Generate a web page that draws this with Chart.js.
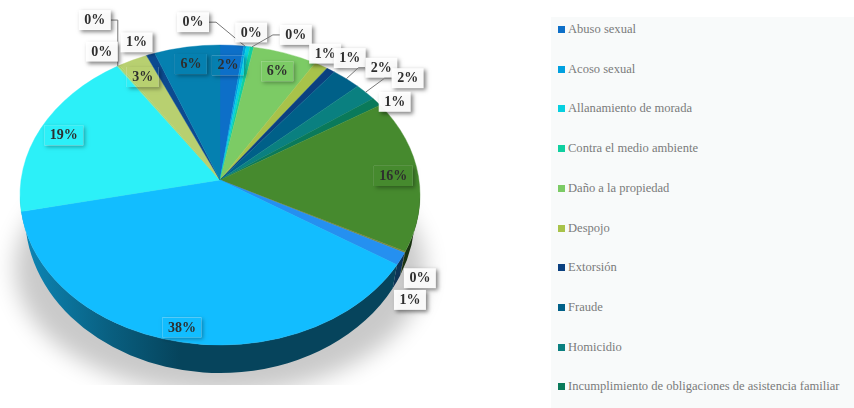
<!DOCTYPE html>
<html>
<head>
<meta charset="utf-8">
<script src="https://cdn.jsdelivr.net/npm/chart.js@4"></script>
<style>
    html, body { margin: 0; padding: 0; background: #fff; width: 854px; height: 408px; overflow: hidden; }
    #wrap { position: absolute; left: 0; top: 0; width: 551px; height: 408px; filter: blur(0.35px); }
    #legend { position: absolute; left: 551px; top: 17px; width: 303px; height: 391px; background: #f8fafa; }
    .item { position: absolute; left: 7px; font: 12.55px "Liberation Serif", serif; color: #7a7a7a; white-space: nowrap; line-height: 14px; }
    .item span { display: inline-block; width: 7px; height: 7px; margin-right: 3px; }
</style>
</head>
<body>
<div id="wrap"><canvas id="myChart" width="551" height="408"></canvas></div>
<div id="legend"></div>
<script>
// only the first 10 names are visible in the picture, the legend is cut off there
const categories = ['Abuso sexual', 'Acoso sexual', 'Allanamiento de morada', 'Contra el medio ambiente', 'Daño a la propiedad',
    'Despojo', 'Extorsión', 'Fraude', 'Homicidio', 'Incumplimiento de obligaciones de asistencia familiar'];
// slice shares as they are drawn in the picture
const values = [1.9, 0.2, 0.3, 0.3, 5.2, 1.1, 0.7, 2.4, 1.8, 0.9, 16.4, 0.15, 1.4, 40.6, 18.2, 0.1, 0.1, 2.4, 0.7, 5.3];
// printed percentages
const pctLabels = ['2%', '0%', '0%', '0%', '6%', '1%', '1%', '2%', '2%', '1%', '16%', '0%', '1%', '38%', '19%', '0%', '0%', '3%', '1%', '6%'];
const sliceColors = ['#0d6fc8', '#00a0e0', '#06d0e0', '#10d0a0', '#7ccb65', '#a8c34a', '#0a4080', '#006088', '#0a8080', '#0a7a5a',
    '#468a2e', '#7a8a3c', '#2590f0', '#12bdff', '#2cf0f8', '#8de0a0', '#a8d060', '#b8d070', '#0c4a90', '#0580b0'];

// where each label sits relative to the rim point of its slice
const labelOffsets = [[-4, 20], [-52, -24], [3, -14], [44, -12], [-8, 18], [4, -12], [19, -12], [35, -11], [42, -14], [18, 0],
    [-25, 0], [15, 26], [9, 41], [-1, -15], [23, 7], [-23, -46], [-17, -14], [10, 17], [-14, -12], [4, 17]];
const insideLabels = [0, 4, 10, 13, 14, 17, 19];
const leaderLabels = [1, 3, 7, 8, 15];

// perspective of the disc
const squash = 0.75;
const centerDrop = 9;
const apexDrop = 24;
const wallDrop = 20;
const wallShrink = 5;
const wallSquash = 0.79;

function darken(hex, f) {
    const n = parseInt(hex.slice(1), 16);
    const r = Math.round((n >> 16 & 255) * f);
    const g = Math.round((n >> 8 & 255) * f);
    const b = Math.round((n & 255) * f);
    return `rgb(${r},${g},${b})`;
}

const fakePie = {
    id: 'fakePie',
    beforeDatasetDraw(chart) {
        const ctx = chart.ctx;
        const arcs = chart.getDatasetMeta(0).data;
        const cx = arcs[0].x;
        const R = arcs[0].outerRadius;
        const cy = arcs[0].y - centerDrop;
        const ry = R * squash;
        const apexY = arcs[0].y - apexDrop;
        const wallCy = cy + wallDrop;
        const wallR = R - wallShrink;
        const wallRy = R * wallSquash;

        // soft shadow under the disc, cut flat at the bottom
        // the ellipse itself is drawn off canvas so only its blur lands here
        ctx.save();
        ctx.beginPath();
        ctx.rect(0, 180, 551, 205);
        ctx.clip();
        ctx.shadowColor = 'rgba(0,0,0,0.21)';
        ctx.shadowBlur = 22;
        ctx.shadowOffsetX = 2000;
        ctx.fillStyle = '#000';
        ctx.beginPath();
        ctx.ellipse(cx - 2000, cy + 73, R + 5, R * 0.63, 0, 0, Math.PI * 2);
        ctx.fill();
        ctx.restore();

        // side wall, only the part facing us
        arcs.forEach((arc) => {
            const a0 = Math.max(arc.startAngle, 0);
            const a1 = Math.min(arc.endAngle, Math.PI);
            if (a1 <= a0) return;
            const c = arc.options.backgroundColor;
            const grad = ctx.createLinearGradient(cx - R, 0, cx, 0);
            grad.addColorStop(0, darken(c, 0.72));
            grad.addColorStop(0.45, darken(c, 0.5));
            grad.addColorStop(0.8, darken(c, 0.36));
            grad.addColorStop(1, darken(c, 0.36));
            ctx.fillStyle = grad;
            ctx.beginPath();
            ctx.ellipse(cx, cy, R, ry, 0, a0, a1);
            ctx.ellipse(cx, wallCy, wallR, wallRy, 0, a1, a0, true);
            ctx.closePath();
            ctx.fill();
        });

        // top face: the tip is not at the middle of the ellipse
        arcs.forEach((arc) => {
            const c = arc.options.backgroundColor;
            ctx.fillStyle = c;
            ctx.strokeStyle = c;
            ctx.lineWidth = 0.4;
            ctx.beginPath();
            ctx.moveTo(cx, apexY);
            ctx.ellipse(cx, cy, R, ry, 0, arc.startAngle, arc.endAngle);
            ctx.closePath();
            ctx.fill();
            ctx.stroke();
        });

        // leaders then boxes and text
        ctx.font = 'bold 14px "Liberation Serif", serif';
        ctx.textAlign = 'center';
        ctx.textBaseline = 'middle';
        arcs.forEach((arc, i) => {
            const mid = (arc.startAngle + arc.endAngle) / 2;
            const rimX = cx + R * Math.cos(mid);
            const rimY = cy + ry * Math.sin(mid);
            const lx = rimX + labelOffsets[i][0];
            const ly = rimY + labelOffsets[i][1];
            const w = ctx.measureText(pctLabels[i]).width + 11;
            const h = 20;
            const inside = insideLabels.includes(i);
            if (leaderLabels.includes(i)) {
                const side = labelOffsets[i][0] > 0 ? -1 : 1;
                ctx.strokeStyle = '#777';
                ctx.lineWidth = 1;
                ctx.beginPath();
                ctx.moveTo(rimX, rimY);
                ctx.lineTo(lx + side * (w / 2 + 7), ly);
                ctx.lineTo(lx + side * w / 2, ly);
                ctx.stroke();
            }
            const x = lx - w / 2;
            const y = ly - h / 2;
            ctx.save();
            if (inside) {
                // see-through box, only its shadow shows outside
                ctx.beginPath();
                ctx.rect(0, 0, 551, 408);
                ctx.rect(x, y, w, h);
                ctx.clip('evenodd');
            }
            ctx.shadowColor = inside ? 'rgba(0,0,0,0.35)' : 'rgba(0,0,0,0.5)';
            ctx.shadowBlur = 4;
            ctx.shadowOffsetX = 2;
            ctx.shadowOffsetY = 2;
            ctx.fillStyle = 'rgba(255,255,255,0.95)';
            ctx.fillRect(x, y, w, h);
            ctx.restore();
            ctx.fillStyle = '#2e2e2e';
            ctx.fillText(pctLabels[i], lx, ly + 0.5);
        });
        return false;
    }
};

const ctx = document.getElementById('myChart').getContext('2d');
const myChart = new Chart(ctx, {
    type: 'pie',
    data: {
        labels: categories,
        datasets: [{
            data: values,
            backgroundColor: sliceColors,
            borderWidth: 0
        }]
    },
    options: {
        responsive: false,
        animation: false,
        layout: { padding: { left: 20, right: 131, top: 4, bottom: 4 } },
        plugins: {
            legend: { display: false },
            tooltip: { enabled: false }
        }
    },
    plugins: [fakePie]
});

// Legend list next to the chart
const legendBox = document.getElementById('legend');
categories.forEach((name, i) => {
    const item = document.createElement('div');
    item.className = 'item';
    item.style.top = (5 + i * 39.7) + 'px';
    const swatch = document.createElement('span');
    swatch.style.backgroundColor = sliceColors[i];
    item.appendChild(swatch);
    item.appendChild(document.createTextNode(name));
    legendBox.appendChild(item);
});
</script>
</body>
</html>
